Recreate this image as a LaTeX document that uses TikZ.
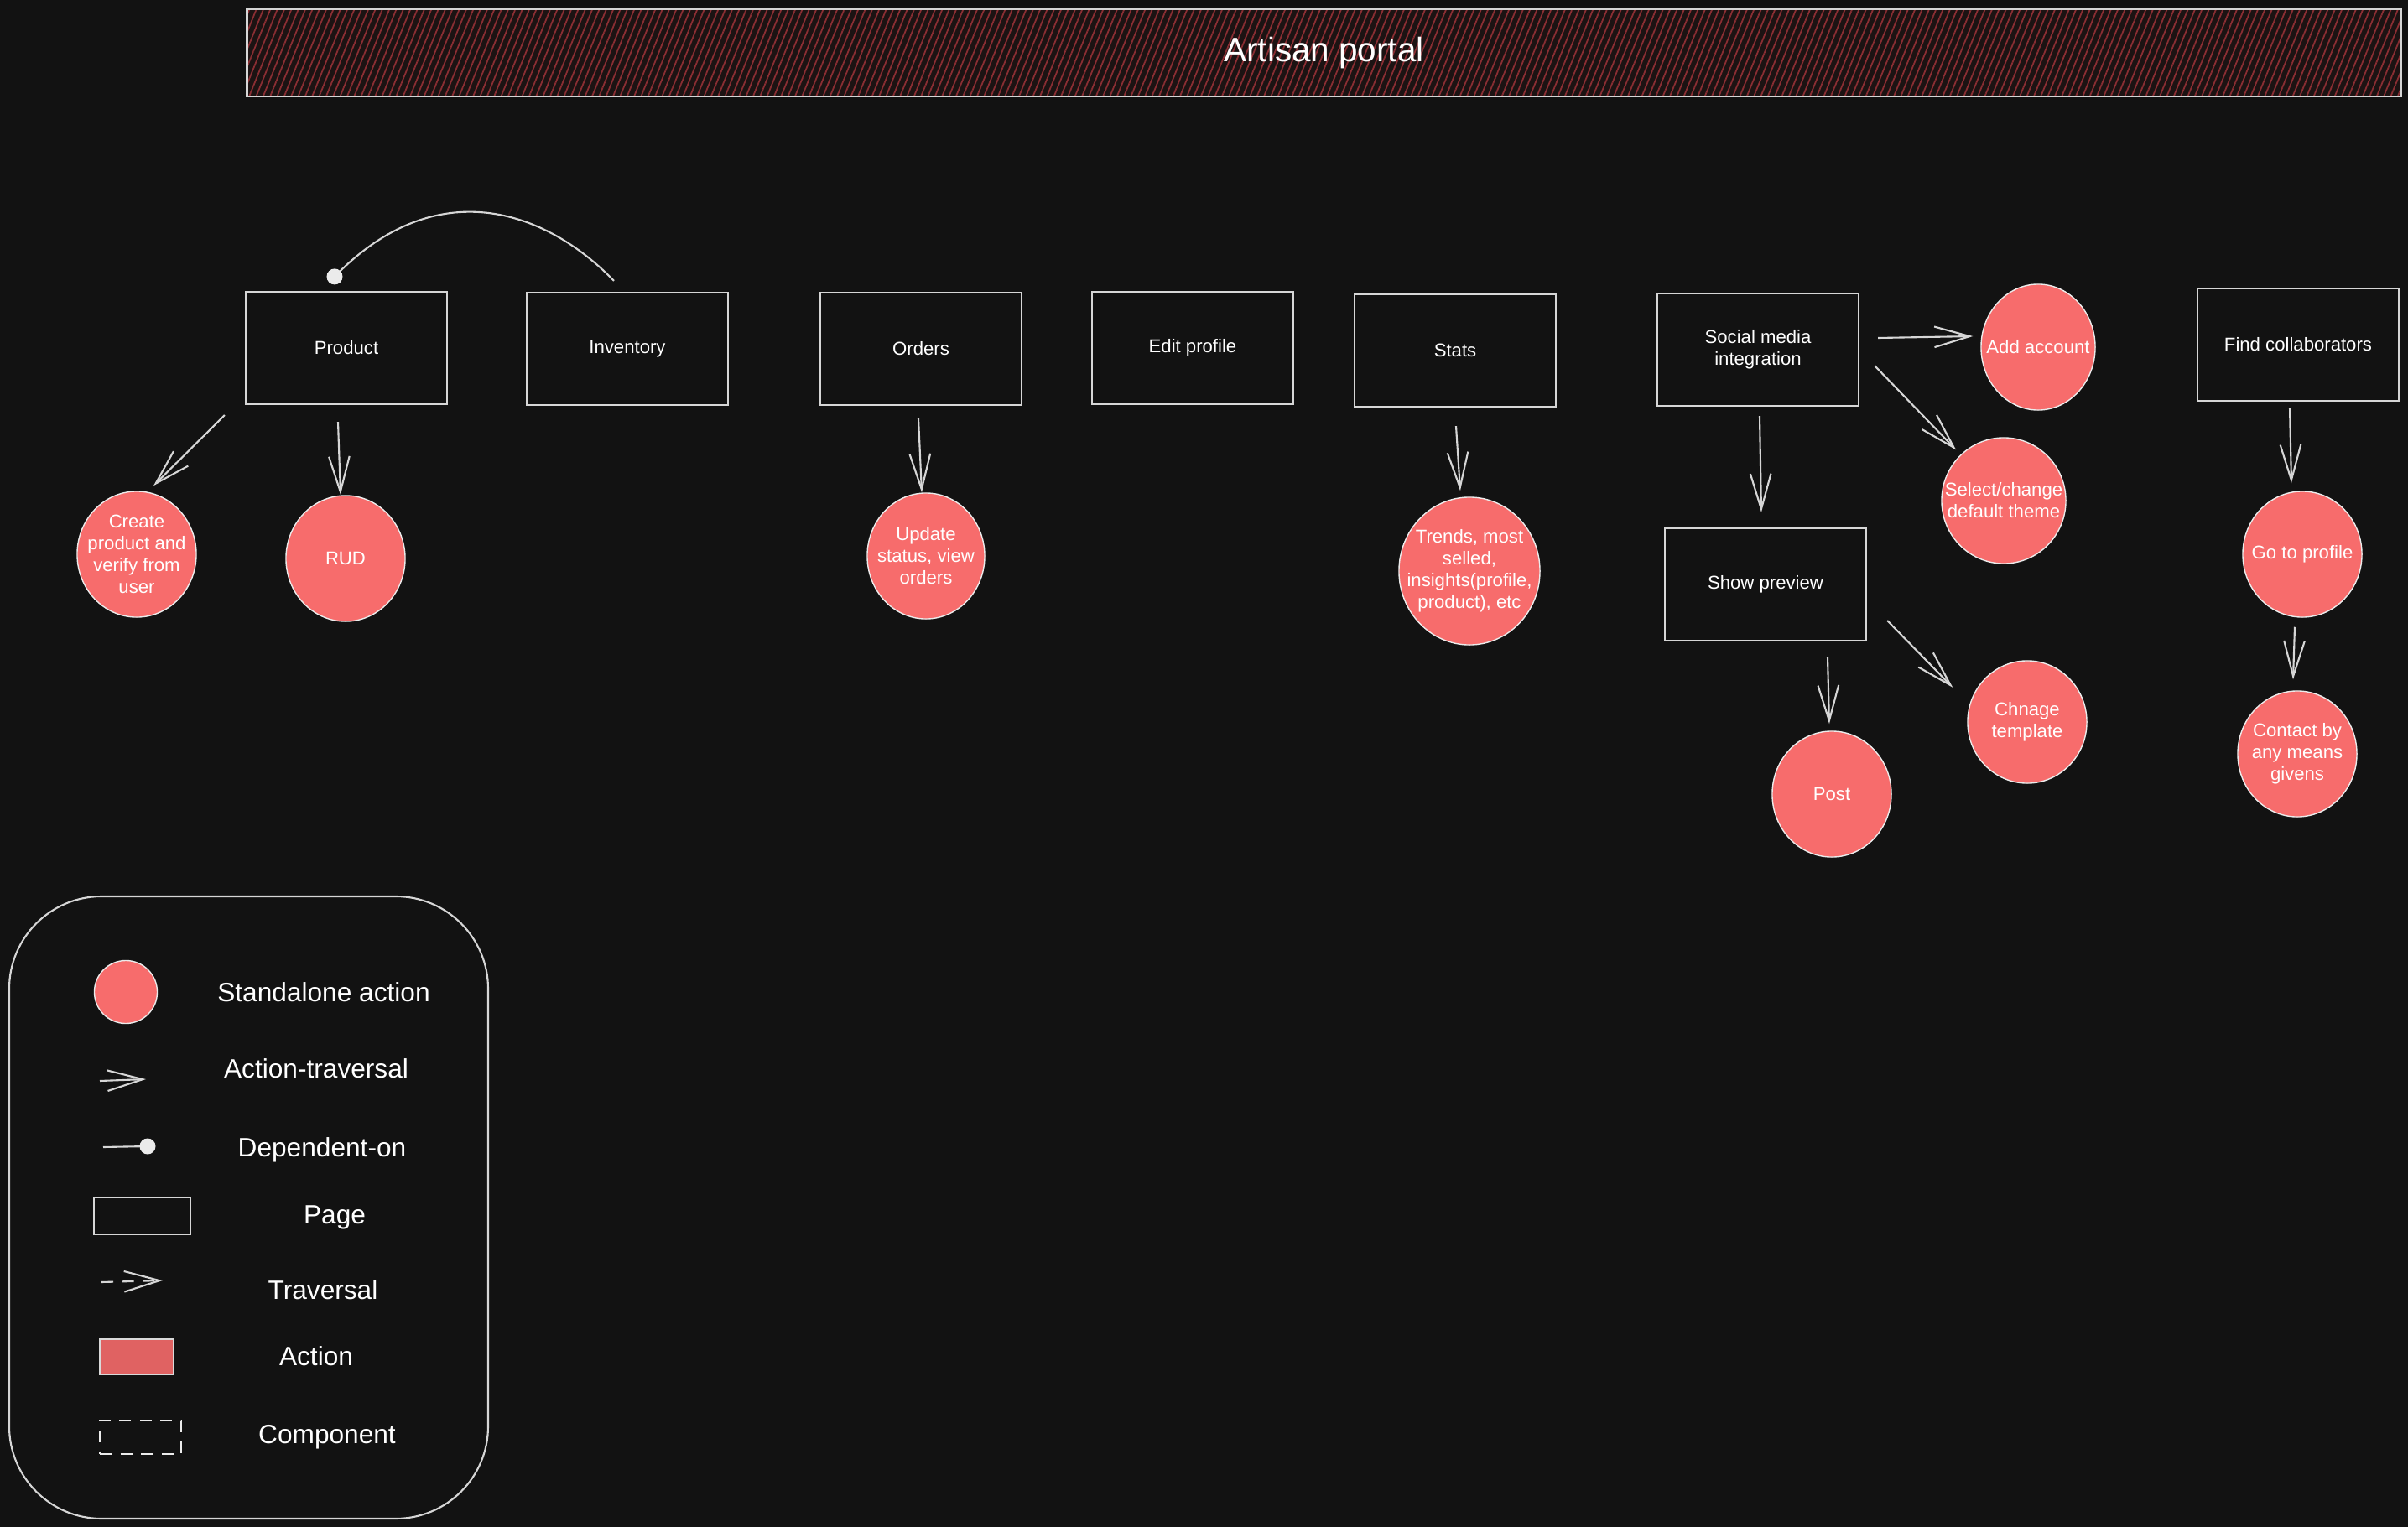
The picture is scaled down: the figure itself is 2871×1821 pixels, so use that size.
\documentclass[tikz,border=0pt]{standalone}
\usepackage{fontspec}
\setmainfont{Liberation Sans}
\usetikzlibrary{shapes.geometric,arrows.meta,patterns.meta,calc}
\definecolor{bg}{HTML}{121212}
\definecolor{strk}{HTML}{D6D6D6}
\definecolor{actred}{HTML}{F76C6C}
\definecolor{legred}{HTML}{E06262}
\definecolor{hatch}{HTML}{8A2E33}
\definecolor{bannerbg}{HTML}{1C1313}
\newcommand{\nodefont}{\fontsize{6.3}{7.4}\selectfont}
\newcommand{\legfont}{\fontsize{9}{11}\selectfont}
\begin{document}
\begin{tikzpicture}[x=0.01cm,y=-0.01cm,
  pagebox/.style={draw=strk, line width=0.6pt, minimum width=2.4cm, minimum height=1.34cm, inner sep=0pt, font=\nodefont, text=white, align=center},
  actnode/.style={ellipse, draw=white!92!black, line width=0.4pt, fill=actred, minimum width=1.42cm, minimum height=1.5cm, inner sep=0pt},
  acttext/.style={font=\nodefont, text=white, align=center, inner sep=0pt},
  arr/.style={draw=strk, line width=0.6pt, -{Straight Barb[length=12pt,width=7pt,line width=0.6pt]}},
  legtext/.style={font=\legfont, text=white, inner sep=0pt},
  longdash/.style={dash pattern=on 4pt off 3pt},
]
\fill[bg] (0,0) rectangle (2871,1821);
\useasboundingbox (0,0) rectangle (2871,1821);

% banner
\node[draw=strk, line width=0.8pt, minimum width=25.67cm, minimum height=1.04cm, inner sep=0pt,
  preaction={fill=bannerbg},
  pattern={Lines[angle=68,distance=2.2pt,line width=0.5pt]}, pattern color=hatch,
  font=\fontsize{11.5}{13}\selectfont, text=white] (banner) at (1578.5,63) {Artisan portal};

% pages
\node[pagebox] (prod) at (413,415) {Product};
\node[pagebox] (inv) at (748,416) {Inventory};
\node[pagebox] (orders) at (1098,416) {Orders};
\node[pagebox] (edit) at (1422,415) {Edit profile};
\node[pagebox] (stats) at (1735,418) {Stats};
\node[pagebox] (social) at (2096,417) {Social media\\integration};
\node[pagebox] (show) at (2105,697) {Show preview};
\node[pagebox] (find) at (2740,411) {Find collaborators};

% actions
\node[actnode] (create) at (163,661) {};
\node[acttext] (createT) at (create) {Create\\product and\\verify from\\user};
\node[actnode] (rud) at (412,666) {};
\node[acttext] (rudT) at (rud) {RUD};
\node[actnode, minimum width=1.40cm] (update) at (1104,663) {};
\node[acttext] (updateT) at (update) {Update\\status, view\\orders};
\node[actnode, minimum width=1.68cm, minimum height=1.76cm] (trends) at (1752,681) {};
\node[acttext] (trendsT) at (trends) {Trends, most\\selled,\\insights(profile,\\product), etc};
\node[actnode, minimum width=1.36cm] (add) at (2430,414) {};
\node[acttext] (addT) at (add) {Add account};
\node[actnode, minimum width=1.48cm] (select) at (2389,597) {};
\node[acttext] (selectT) at (select) {Select/change\\default theme};
\node[actnode] (post) at (2184,947) {};
\node[acttext] (postT) at (post) {Post};
\node[actnode, minimum height=1.46cm] (change) at (2417,861) {};
\node[acttext] (changeT) at (change) {Chnage\\template};
\node[actnode] (go) at (2745,661) {};
\node[acttext] (goT) at (go) {Go to profile};
\node[actnode] (contact) at (2739,899) {};
\node[acttext] (contactT) at (contact) {Contact by\\any means\\givens};

% arrows
\draw[arr] ([shift={(-24,12)}]prod.south west) -- ([shift={(20,-6)}]create.north);
\draw[arr] ([shift={(-10,20)}]prod.south) -- ([shift={(-6,0)}]rud.north);
\draw[arr] ([shift={(-3,15)}]orders.south) -- ([shift={(-5,0)}]update.north);
\draw[arr] ([shift={(1,22)}]stats.south) -- ([shift={(-11,-7)}]trends.north);
\draw[arr] ([shift={(22,-14)}]social.east) -- ([shift={(-9,-13)}]add.west);
\draw[arr] ([shift={(18,-49)}]social.south east) -- ([shift={(-4,-7)}]select.north west);
\draw[arr] ([shift={(2,11)}]social.south) -- ([shift={(-5,-18)}]show.north);
\draw[arr] ([shift={(74,18)}]show.south) -- ([shift={(-3,-8)}]post.north);
\draw[arr] ([shift={(24,43)}]show.east) -- ([shift={(-38,11)}]change.north west);
\draw[arr] ([shift={(-10,7)}]find.south) -- ([shift={(-13,-9)}]go.north);
\draw[arr] ([shift={(-9,11)}]go.south) -- ([shift={(-5,-13)}]contact.north);

% dependency
\coordinate (depA) at ([shift={(-16,-13)}]inv.north);
\coordinate (depB) at ([shift={(-14,-17)}]prod.north);
\draw[strk, line width=0.6pt] (depA) .. controls (650,250) and (520,205) .. (depB);
\fill[white!92!black] (depB) circle[radius=0.095cm];

% legend
\draw[strk, line width=0.6pt, rounded corners=1.1cm] (11,1069) rectangle (582,1811);
\node[ellipse, draw=white!92!black, line width=0.4pt, fill=actred, minimum width=0.75cm, minimum height=0.75cm, inner sep=0pt] (lgCirc) at (150,1183) {};
\node[legtext] (lg1) at (386,1183) {Standalone action};
\coordinate (lgA1) at (119,1289);
\coordinate (lgA2) at (174,1287);
\draw[arr] (lgA1) -- (lgA2);
\node[legtext] (lg2) at (377,1274) {Action-traversal};
\coordinate (lgD1) at (123,1368);
\coordinate (lgD2) at (176,1367);
\draw[strk, line width=0.6pt] (lgD1) -- (lgD2);
\fill[white!92!black] (lgD2) circle[radius=0.095cm];
\node[legtext] (lg3) at (384,1371) {Dependent-on};
\node[draw=strk, line width=0.6pt, minimum width=1.15cm, minimum height=0.44cm, inner sep=0pt] (lgPage) at (169.5,1450) {};
\node[legtext] (lg4) at (399,1452) {Page};
\coordinate (lgT1) at (121,1529);
\coordinate (lgT2) at (194,1527);
\draw[arr, longdash] (lgT1) -- (lgT2);
\node[legtext] (lg5) at (385,1538) {Traversal};
\node[draw=white!85!black, line width=0.6pt, fill=legred, minimum width=0.88cm, minimum height=0.42cm, inner sep=0pt] (lgAct) at (163,1618) {};
\node[legtext] (lg6) at (377,1617) {Action};
\node[draw=white!92!black, longdash, line width=0.6pt, minimum width=0.97cm, minimum height=0.40cm, inner sep=0pt] (lgComp) at (167.5,1714) {};
\node[legtext] (lg7) at (390,1714) {Component};
\end{tikzpicture}
\end{document}
